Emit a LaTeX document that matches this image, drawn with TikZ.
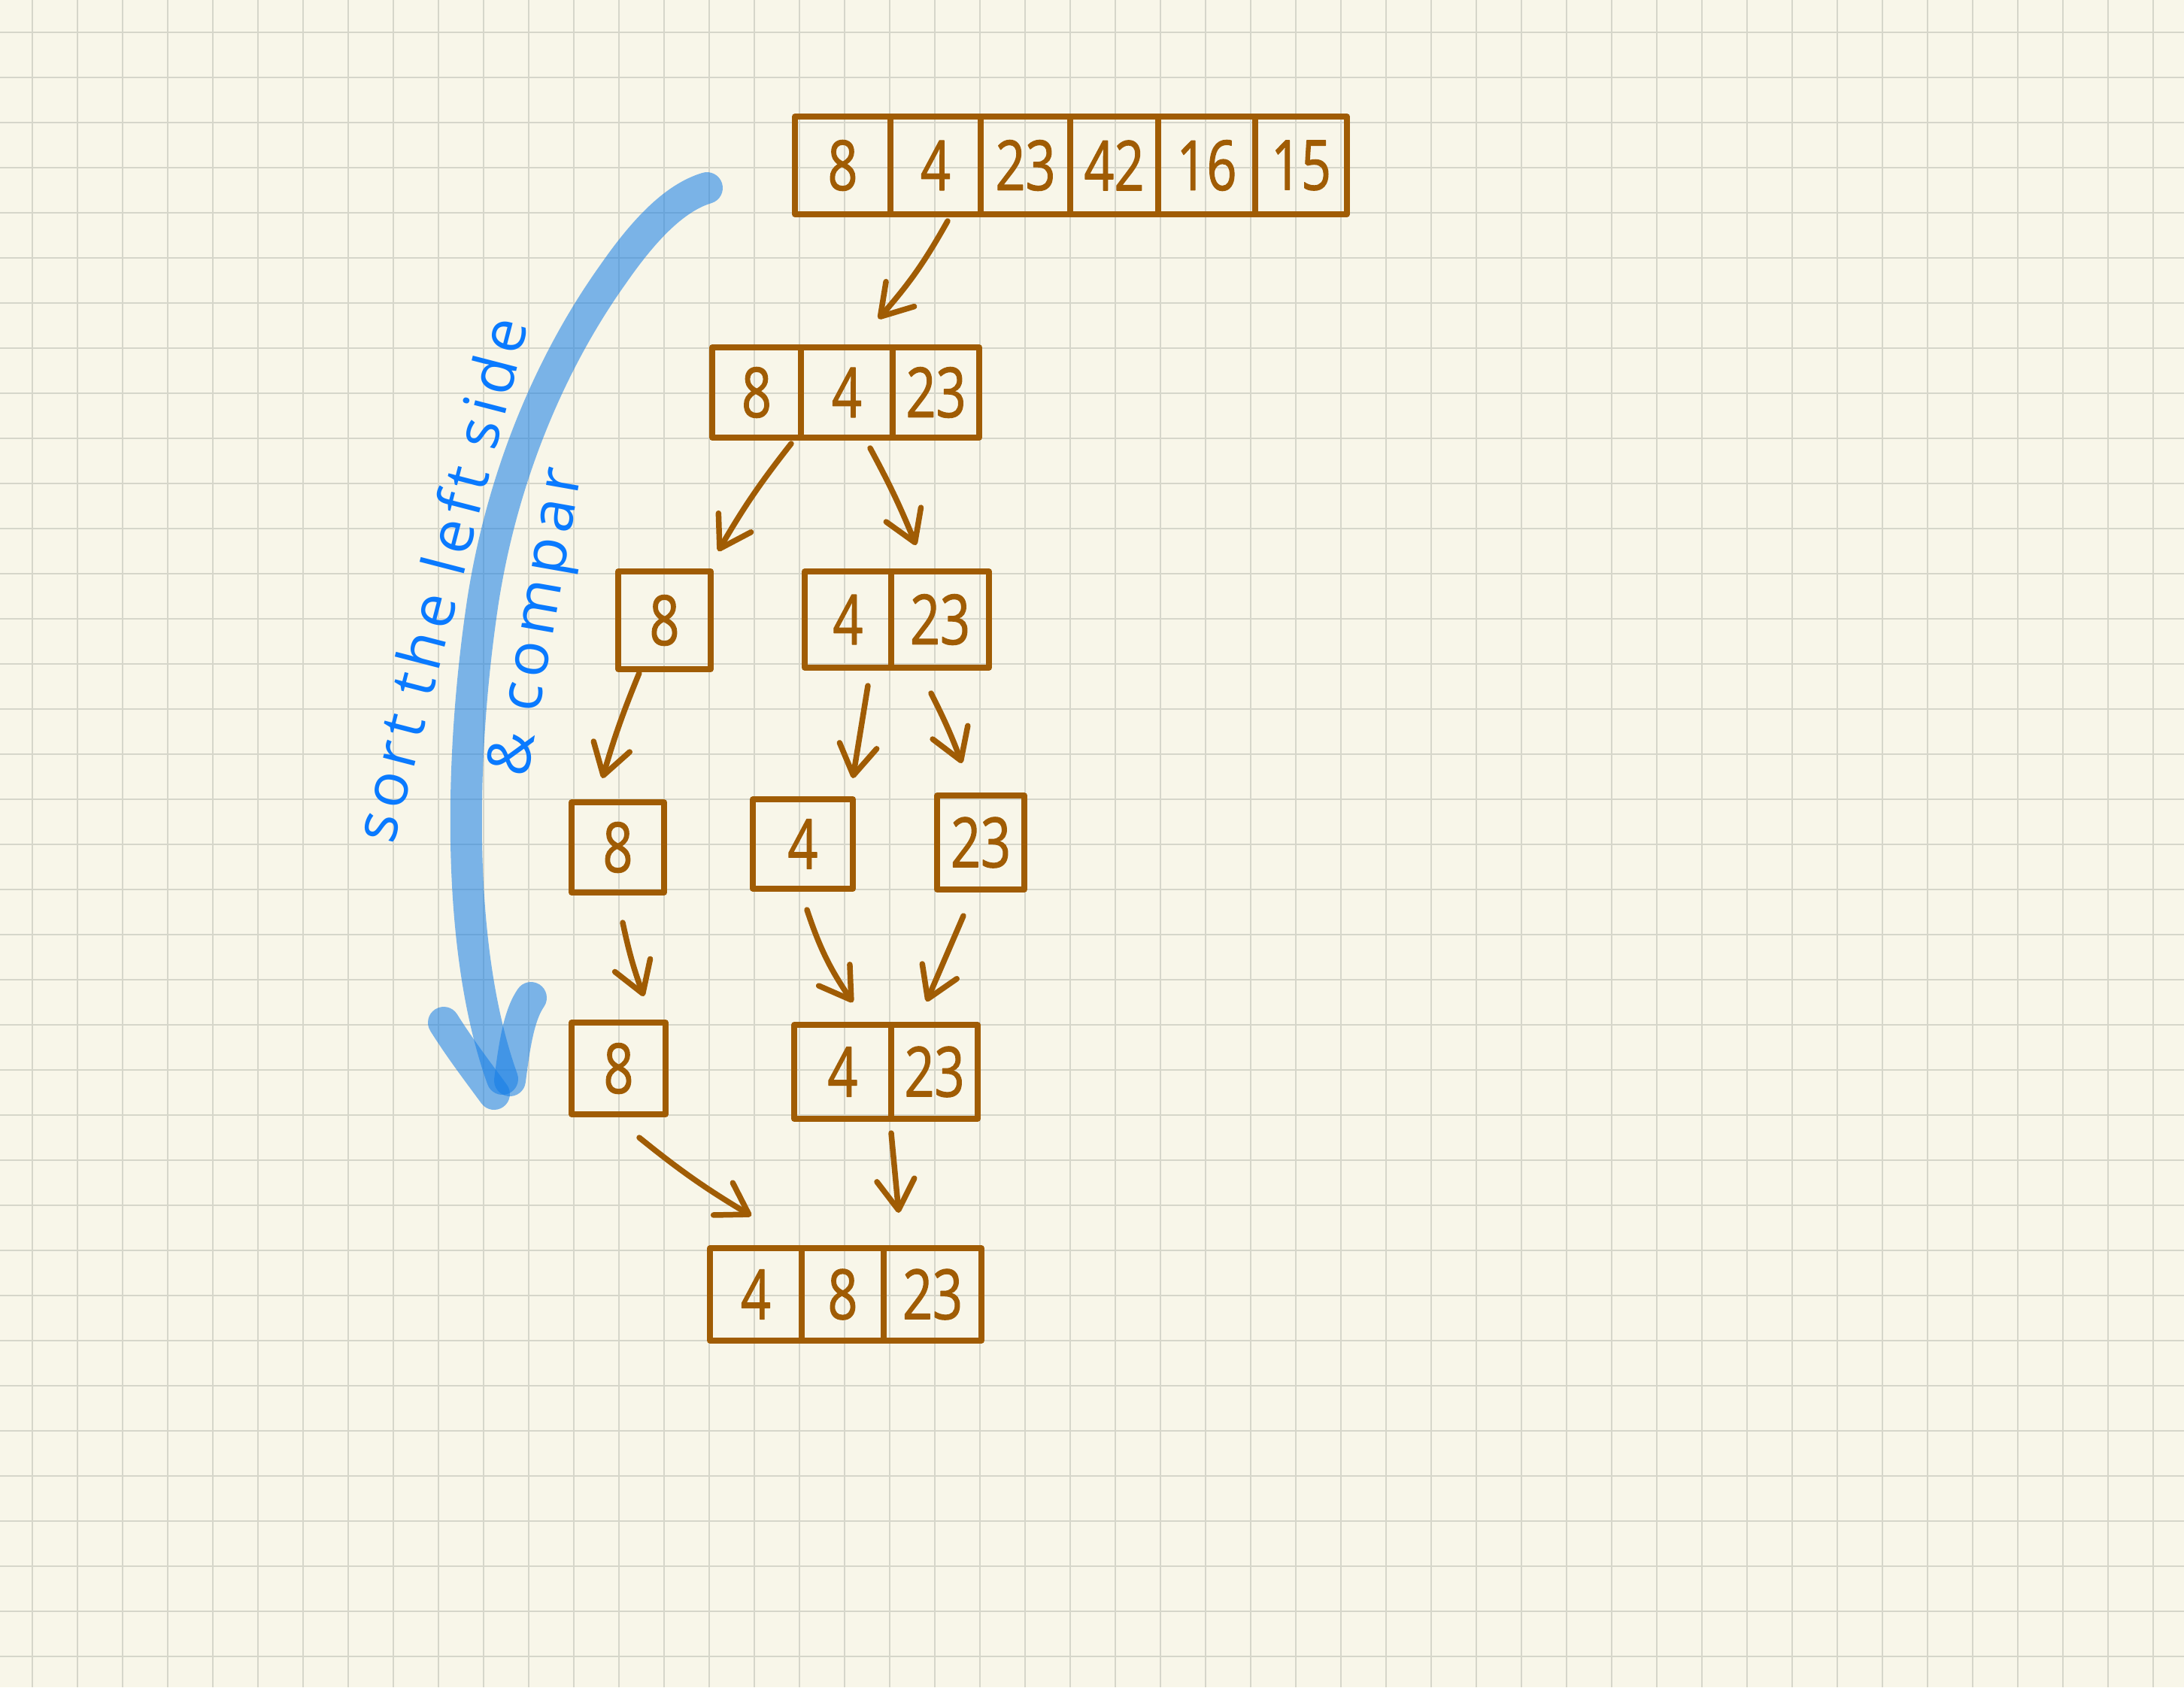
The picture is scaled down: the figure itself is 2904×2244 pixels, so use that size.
\documentclass[tikz,border=0pt]{standalone}
\usepackage{fontspec}
\newfontfamily\handfont[FakeStretch=0.76,FakeBold=1.2]{Open Sans}
\newfontfamily\notefont[LetterSpace=10]{Open Sans}
\usetikzlibrary{arrows.meta}
\definecolor{paper}{RGB}{248,246,233}
\definecolor{gridc}{RGB}{214,214,202}
\definecolor{ink}{RGB}{160,92,4}
\definecolor{hl}{RGB}{20,125,230}
\definecolor{pen}{RGB}{10,122,255}
\begin{document}
\begin{tikzpicture}[x=1pt,y=-1pt,
  cell/.style={draw=ink, line width=7.5pt, line join=round, inner sep=0pt, text=ink,
    font=\handfont\fontsize{92}{96}\selectfont},
  arr/.style={draw=ink, line width=7.5pt, line cap=round,
    -{Straight Barb[length=40pt,width=50pt,round]}},
  gridline/.style={draw=gridc, line width=2pt},
  marker/.style={draw=hl, opacity=0.55, line width=42pt, line cap=round, line join=round},
  note/.style={text=pen, font=\notefont\fontsize{80}{86}\selectfont, inner sep=0pt}]
% paper
\fill[paper] (0,0) rectangle (2904,2244);
\useasboundingbox (0,0) rectangle (2904,2244);
\foreach \i in {0,...,47} \draw[gridline] ({43+60*\i},0) -- ({43+60*\i},2244);
\foreach \j in {0,...,36} \draw[gridline] (0,{43+60*\j}) -- (2904,{43+60*\j});

% row 1
\node[cell, minimum width=127, minimum height=130] (t1) at (1120.5,220) {8};
\node[cell, minimum width=120, minimum height=130] (t2) at (1244,220) {4};
\node[cell, minimum width=119, minimum height=130] (t3) at (1363.5,220) {23};
\node[cell, minimum width=117, minimum height=130] (t4) at (1481.5,220) {42};
\node[cell, minimum width=129, minimum height=130] (t5) at (1604.5,220) {16};
\node[cell, minimum width=122, minimum height=130] (t6) at (1730,220) {15};

% row 2
\node[cell, minimum width=118, minimum height=120] (a1) at (1006,522) {8};
\node[cell, minimum width=122, minimum height=120] (a2) at (1126,522) {4};
\node[cell, minimum width=115, minimum height=120] (a3) at (1244.5,522) {23};

% row 3
\node[cell, minimum width=123, minimum height=130] (b1) at (883.5,825) {8};
\node[cell, minimum width=115, minimum height=128] (b2) at (1127.5,824) {4};
\node[cell, minimum width=130, minimum height=128] (b3) at (1250,824) {23};

% row 4
\node[cell, minimum width=123, minimum height=120] (c1) at (821.5,1127) {8};
\node[cell, minimum width=133, minimum height=119] (c2) at (1067.5,1122.5) {4};
\node[cell, minimum width=116, minimum height=125] (c3) at (1304,1120.5) {23};

% row 5
\node[cell, minimum width=125, minimum height=122] (d1) at (822.5,1421) {8};
\node[cell, minimum width=129, minimum height=125] (d2) at (1120.5,1425.5) {4};
\node[cell, minimum width=115, minimum height=125] (d3) at (1242.5,1425.5) {23};

% row 6
\node[cell, minimum width=122, minimum height=123] (e1) at (1005,1721.5) {4};
\node[cell, minimum width=109, minimum height=123] (e2) at (1120.5,1721.5) {8};
\node[cell, minimum width=130, minimum height=123] (e3) at (1240,1721.5) {23};

% arrow end points
\coordinate (p1s) at (1260,294);  \coordinate (p1e) at (1168,424);
\coordinate (p2s) at (1052,590);  \coordinate (p2e) at (955,733);
\coordinate (p3s) at (1157,596);  \coordinate (p3e) at (1218,725);
\coordinate (p4s) at (850,895);   \coordinate (p4e) at (801,1035);
\coordinate (p5s) at (1154,912);  \coordinate (p5e) at (1134,1035);
\coordinate (p6s) at (1238,922);  \coordinate (p6e) at (1279,1015);
\coordinate (p7s) at (828,1227);  \coordinate (p7e) at (856,1325);
\coordinate (p8s) at (1073,1210); \coordinate (p8e) at (1134,1333);
\coordinate (p9s) at (1281,1218); \coordinate (p9e) at (1232,1332);
\coordinate (p10s) at (850,1513); \coordinate (p10e) at (999,1617);
\coordinate (p11s) at (1185,1507);\coordinate (p11e) at (1195,1613);

\draw[arr] (p1s) to[bend left=6] (p1e);
\draw[arr] (p2s) to[bend right=4] (p2e);
\draw[arr] (p3s) to[bend left=3] (p3e);
\draw[arr] (p4s) to[bend right=3] (p4e);
\draw[arr] (p5s) -- (p5e);
\draw[arr] (p6s) to[bend left=3] (p6e);
\draw[arr] (p7s) to[bend right=4] (p7e);
\draw[arr] (p8s) to[bend right=8] (p8e);
\draw[arr] (p9s) -- (p9e);
\draw[arr] (p10s) to[bend right=4] (p10e);
\draw[arr] (p11s) -- (p11e);

% blue marker arrow
\coordinate (m0) at (940,250);
\coordinate (m1) at (668,1435);
\draw[marker] (m0) .. controls (900,262) and (860,300) .. (815,365)
  .. controls (740,470) and (670,620) .. (642,800)
  .. controls (612,1000) and (605,1260) .. (m1);
\draw[marker] (590,1360) .. controls (612,1395) and (635,1425) .. (657,1455);
\draw[marker] (706,1327) .. controls (690,1350) and (684,1390) .. (678,1437);

% notes
\node[note, rotate=75.5] (n1) at (584,770) {sort the left side};
\node[note, rotate=80] (n2) at (718,828) {\& compar};
\end{tikzpicture}
\end{document}
